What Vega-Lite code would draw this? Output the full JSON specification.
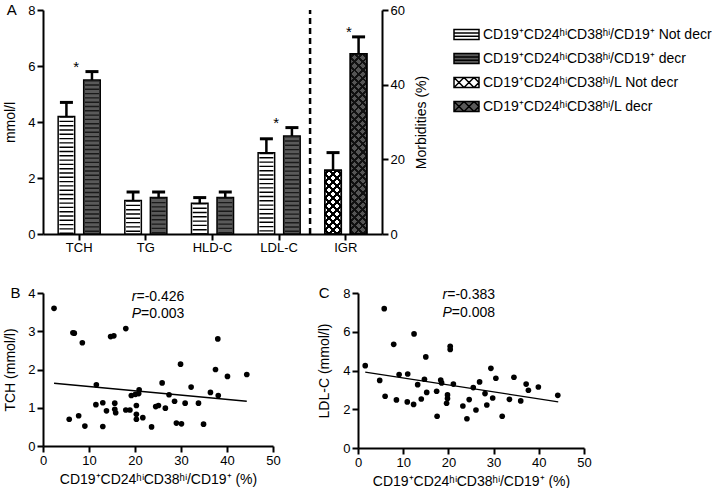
{
 "$schema": "https://vega.github.io/schema/vega-lite/v6.json",
 "background": "white",
 "padding": {"left": 3, "top": 3, "right": 0, "bottom": 0},
 "spacing": 28,
 "config": {
  "font": "Liberation Sans",
  "view": {"stroke": null},
  "axis": {"domainColor": "#000", "domainWidth": 2, "tickColor": "#000", "tickWidth": 2, "tickSize": 6, "labelColor": "#000", "labelFontSize": 13, "labelPadding": 2, "labelOverlap": false, "labelFlush": false, "labelBound": false, "titleFontSize": 14, "titleFontWeight": "normal", "titleColor": "#000", "grid": false}
 },
 "resolve": {"legend": {"fill": "independent", "shape": "independent"}},
 "datasets": {
  "bars": [
   {"cat": "TCH", "status": "Not decr", "series": "CD19⁺CD24ʰⁱCD38ʰⁱ/CD19⁺ Not decr", "value": 4.2, "hi": 4.7, "axis": "left", "sig": false},
   {"cat": "TCH", "status": "decr", "series": "CD19⁺CD24ʰⁱCD38ʰⁱ/CD19⁺ decr", "value": 5.5, "hi": 5.8, "axis": "left", "sig": true},
   {"cat": "TG", "status": "Not decr", "series": "CD19⁺CD24ʰⁱCD38ʰⁱ/CD19⁺ Not decr", "value": 1.2, "hi": 1.5, "axis": "left", "sig": false},
   {"cat": "TG", "status": "decr", "series": "CD19⁺CD24ʰⁱCD38ʰⁱ/CD19⁺ decr", "value": 1.3, "hi": 1.5, "axis": "left", "sig": false},
   {"cat": "HLD-C", "status": "Not decr", "series": "CD19⁺CD24ʰⁱCD38ʰⁱ/CD19⁺ Not decr", "value": 1.1, "hi": 1.3, "axis": "left", "sig": false},
   {"cat": "HLD-C", "status": "decr", "series": "CD19⁺CD24ʰⁱCD38ʰⁱ/CD19⁺ decr", "value": 1.3, "hi": 1.5, "axis": "left", "sig": false},
   {"cat": "LDL-C", "status": "Not decr", "series": "CD19⁺CD24ʰⁱCD38ʰⁱ/CD19⁺ Not decr", "value": 2.9, "hi": 3.4, "axis": "left", "sig": false},
   {"cat": "LDL-C", "status": "decr", "series": "CD19⁺CD24ʰⁱCD38ʰⁱ/CD19⁺ decr", "value": 3.5, "hi": 3.8, "axis": "left", "sig": true},
   {"cat": "IGR", "status": "Not decr", "series": "CD19⁺CD24ʰⁱCD38ʰⁱ/L Not decr", "value": 17.1, "hi": 21.8, "axis": "right", "sig": false},
   {"cat": "IGR", "status": "decr", "series": "CD19⁺CD24ʰⁱCD38ʰⁱ/L decr", "value": 48.3, "hi": 52.8, "axis": "right", "sig": true}
  ],
  "b": [
   {"x": 2.4, "y": 3.6}, {"x": 6.5, "y": 2.96}, {"x": 6.8, "y": 2.95}, {"x": 8.55, "y": 2.7}, {"x": 14.7, "y": 2.86}, {"x": 15.4, "y": 2.88}, {"x": 18.0, "y": 3.07}, {"x": 38.0, "y": 2.8}, {"x": 29.9, "y": 2.14}, {"x": 37.5, "y": 2.0}, {"x": 40.1, "y": 1.82}, {"x": 44.3, "y": 1.87}, {"x": 11.6, "y": 1.6}, {"x": 25.9, "y": 1.65}, {"x": 32.2, "y": 1.54}, {"x": 20.9, "y": 1.47}, {"x": 20.8, "y": 1.37}, {"x": 19.2, "y": 1.32}, {"x": 20.1, "y": 1.35}, {"x": 27.4, "y": 1.34}, {"x": 36.4, "y": 1.4}, {"x": 38.1, "y": 1.32}, {"x": 11.5, "y": 1.08}, {"x": 13.0, "y": 1.13}, {"x": 15.6, "y": 1.12}, {"x": 15.6, "y": 0.96}, {"x": 15.8, "y": 0.87}, {"x": 13.8, "y": 0.92}, {"x": 18.0, "y": 0.94}, {"x": 18.9, "y": 0.94}, {"x": 20.3, "y": 1.06}, {"x": 20.3, "y": 0.83}, {"x": 20.3, "y": 0.7}, {"x": 21.7, "y": 0.74}, {"x": 24.5, "y": 1.03}, {"x": 25.1, "y": 1.06}, {"x": 26.6, "y": 0.99}, {"x": 28.6, "y": 1.17}, {"x": 30.9, "y": 1.12}, {"x": 33.8, "y": 1.12}, {"x": 5.7, "y": 0.7}, {"x": 7.75, "y": 0.79}, {"x": 9.1, "y": 0.52}, {"x": 13.0, "y": 0.51}, {"x": 23.6, "y": 0.5}, {"x": 29.0, "y": 0.6}, {"x": 30.1, "y": 0.58}, {"x": 34.9, "y": 0.57}
  ],
  "bfit": [{"x": 2.4, "y": 1.64}, {"x": 44.3, "y": 1.17}],
  "c": [
   {"x": 5.8, "y": 7.19}, {"x": 7.9, "y": 5.35}, {"x": 12.4, "y": 5.89}, {"x": 20.4, "y": 5.25}, {"x": 20.4, "y": 5.09}, {"x": 15.0, "y": 4.7}, {"x": 1.6, "y": 4.25}, {"x": 29.4, "y": 4.11}, {"x": 9.1, "y": 3.79}, {"x": 11.0, "y": 3.82}, {"x": 4.8, "y": 3.49}, {"x": 14.7, "y": 3.55}, {"x": 18.3, "y": 3.51}, {"x": 18.5, "y": 3.36}, {"x": 13.2, "y": 3.27}, {"x": 21.1, "y": 3.3}, {"x": 26.9, "y": 3.41}, {"x": 30.5, "y": 3.6}, {"x": 34.5, "y": 3.65}, {"x": 37.2, "y": 3.3}, {"x": 39.9, "y": 3.15}, {"x": 37.7, "y": 2.98}, {"x": 25.5, "y": 3.12}, {"x": 15.2, "y": 2.87}, {"x": 17.4, "y": 2.93}, {"x": 6.0, "y": 2.67}, {"x": 8.5, "y": 2.48}, {"x": 10.9, "y": 2.38}, {"x": 12.3, "y": 2.25}, {"x": 14.0, "y": 2.53}, {"x": 19.8, "y": 2.74}, {"x": 19.8, "y": 2.55}, {"x": 19.6, "y": 2.31}, {"x": 28.1, "y": 2.81}, {"x": 29.8, "y": 2.58}, {"x": 33.5, "y": 2.51}, {"x": 36.0, "y": 2.43}, {"x": 44.2, "y": 2.72}, {"x": 24.6, "y": 2.5}, {"x": 23.2, "y": 2.17}, {"x": 28.5, "y": 2.22}, {"x": 26.1, "y": 1.96}, {"x": 17.5, "y": 1.64}, {"x": 24.1, "y": 1.51}, {"x": 31.9, "y": 1.64}
  ],
  "cfit": [{"x": 1.6, "y": 3.92}, {"x": 44.3, "y": 2.38}]
 },
 "vconcat": [
  {
   "width": 339,
   "height": 224,
   "data": {"name": "bars"},
   "layer": [
    {
     "layer": [
      {
       "transform": [{"filter": "datum.axis=='left'"}],
       "mark": {"type": "bar", "stroke": "#000", "strokeWidth": 1.5},
       "encoding": {
        "x": {"field": "cat", "type": "nominal", "scale": {"domain": ["TCH", "TG", "HLD-C", "LDL-C", "IGR"], "paddingInner": 0.234, "paddingOuter": 0.16}, "axis": {"title": null, "labelAngle": 0, "labelPadding": 1}},
        "xOffset": {"field": "status", "type": "nominal", "scale": {"domain": ["Not decr", "decr"], "paddingInner": 0.353, "paddingOuter": 0.176}},
        "y": {"field": "value", "type": "quantitative", "scale": {"domain": [0, 8]}, "axis": {"values": [0, 2, 4, 6, 8], "tickCount": 10, "format": "d", "title": "mmol/l", "titlePadding": 10}},
        "fill": {"condition": {"test": "datum.status=='decr'", "value": "#5a5a5a"}, "value": "#ffffff"}
       }
      },
      {
       "transform": [{"filter": "datum.axis=='left'"}],
       "mark": {"type": "rule", "strokeWidth": 14, "strokeDash": [1.4, 2.9], "strokeCap": "butt"},
       "encoding": {
        "x": {"field": "cat", "type": "nominal"},
        "xOffset": {"field": "status", "type": "nominal"},
        "y": {"field": "value", "type": "quantitative"},
        "y2": {"datum": 0},
        "stroke": {"condition": {"test": "datum.status=='decr'", "value": "#1a1a1a"}, "value": "#000000"}
       }
      },
      {
       "transform": [{"filter": "datum.axis=='left'"}],
       "mark": {"type": "rule", "strokeWidth": 2.5, "color": "#000"},
       "encoding": {
        "x": {"field": "cat", "type": "nominal"},
        "xOffset": {"field": "status", "type": "nominal"},
        "y": {"field": "value", "type": "quantitative"},
        "y2": {"field": "hi"}
       }
      },
      {
       "transform": [{"filter": "datum.axis=='left'"}],
       "mark": {"type": "tick", "thickness": 3, "size": 13, "color": "#000", "opacity": 1},
       "encoding": {
        "x": {"field": "cat", "type": "nominal"},
        "xOffset": {"field": "status", "type": "nominal"},
        "y": {"field": "hi", "type": "quantitative"}
       }
      },
      {
       "transform": [{"filter": "datum.axis=='left' && datum.sig"}],
       "mark": {"type": "text", "fontSize": 15, "dy": -5, "dx": -3, "color": "#000"},
       "encoding": {
        "x": {"field": "cat", "type": "nominal"},
        "y": {"field": "hi", "type": "quantitative"},
        "text": {"value": "*"}
       }
      },
      {
       "data": {"values": [{}]},
       "mark": {"type": "rule", "strokeDash": [6, 4], "strokeWidth": 2.5, "color": "#000"},
       "encoding": {
        "x": {"datum": "IGR", "type": "nominal", "bandPosition": -0.2},
        "y": {"datum": 0, "type": "quantitative"},
        "y2": {"datum": 8}
       }
      },
      {
       "data": {"values": [{}]},
       "mark": {"type": "text", "fontSize": 15, "align": "center", "baseline": "middle", "color": "#000"},
       "encoding": {
        "x": {"datum": "TCH", "type": "nominal", "bandPosition": -0.82},
        "y": {"datum": 8, "type": "quantitative"},
        "text": {"value": "A"}
       }
      },
      {
       "transform": [{"filter": "datum.axis=='left'"}],
       "mark": {"type": "point", "filled": true, "opacity": 0, "stroke": "#000"},
       "encoding": {
        "x": {"field": "cat", "type": "nominal"},
        "xOffset": {"field": "status", "type": "nominal"},
        "y": {"field": "value", "type": "quantitative"},
        "fill": {
         "field": "series", "type": "nominal",
         "scale": {"domain": ["CD19⁺CD24ʰⁱCD38ʰⁱ/CD19⁺ Not decr", "CD19⁺CD24ʰⁱCD38ʰⁱ/CD19⁺ decr", "CD19⁺CD24ʰⁱCD38ʰⁱ/L Not decr", "CD19⁺CD24ʰⁱCD38ʰⁱ/L decr"], "range": ["#ffffff", "#5a5a5a", "#ffffff", "#5a5a5a"]},
         "legend": {"title": null, "orient": "none", "legendX": 410, "legendY": 11, "symbolSize": 625, "labelFontSize": 14, "labelColor": "#000", "labelOffset": 3, "rowPadding": 2, "padding": 0, "labelLimit": 400, "symbolStrokeColor": "#000", "symbolStrokeWidth": 1.5, "symbolOpacity": 1, "encode": {"symbols": {"update": {"stroke": {"value": "#000"}, "strokeWidth": {"value": 1.5}, "opacity": {"value": 1}}}}}
        },
        "shape": {
         "field": "series", "type": "nominal",
         "scale": {"domain": ["CD19⁺CD24ʰⁱCD38ʰⁱ/CD19⁺ Not decr", "CD19⁺CD24ʰⁱCD38ʰⁱ/CD19⁺ decr", "CD19⁺CD24ʰⁱCD38ʰⁱ/L Not decr", "CD19⁺CD24ʰⁱCD38ʰⁱ/L decr"], "range": ["M-1,-0.4H1V0.4H-1ZM-1,-0.13H1M-1,0.13H1", "M-1,-0.4H1V0.4H-1ZM-1,-0.13H1M-1,0.13H1", "M-1,-0.4H1V0.4H-1ZM-1,-0.4L-0.2,0.4M-1,0.4L-0.2,-0.4M-0.2,-0.4L0.6,0.4M-0.2,0.4L0.6,-0.4M0.6,-0.4L1,0L0.6,0.4", "M-1,-0.4H1V0.4H-1ZM-1,-0.4L-0.2,0.4M-1,0.4L-0.2,-0.4M-0.2,-0.4L0.6,0.4M-0.2,0.4L0.6,-0.4M0.6,-0.4L1,0L0.6,0.4"]},
         "legend": {"title": null, "orient": "none", "legendX": 410, "legendY": 11, "symbolSize": 625, "labelFontSize": 14, "labelColor": "#000", "labelOffset": 3, "rowPadding": 2, "padding": 0, "labelLimit": 400, "symbolStrokeColor": "#000", "symbolStrokeWidth": 1.5, "symbolOpacity": 1, "encode": {"symbols": {"update": {"stroke": {"value": "#000"}, "strokeWidth": {"value": 1.5}, "opacity": {"value": 1}}}}}
        }
       }
      }
     ]
    },
    {
     "layer": [
      {
       "transform": [{"filter": "datum.axis=='right' && datum.status=='Not decr'"}],
       "mark": {"type": "bar", "stroke": "#000", "strokeWidth": 1.5,
        "fill": {"gradient": "linear", "x1": 0, "y1": 0, "x2": 0.3051, "y2": 1.18, "stops": [
         {"offset": 0.0325, "color": "#fff"}, {"offset": 0.0325, "color": "#000"}, {"offset": 0.0675, "color": "#000"}, {"offset": 0.0675, "color": "#fff"},
         {"offset": 0.1325, "color": "#fff"}, {"offset": 0.1325, "color": "#000"}, {"offset": 0.1675, "color": "#000"}, {"offset": 0.1675, "color": "#fff"},
         {"offset": 0.2325, "color": "#fff"}, {"offset": 0.2325, "color": "#000"}, {"offset": 0.2675, "color": "#000"}, {"offset": 0.2675, "color": "#fff"},
         {"offset": 0.3325, "color": "#fff"}, {"offset": 0.3325, "color": "#000"}, {"offset": 0.3675, "color": "#000"}, {"offset": 0.3675, "color": "#fff"},
         {"offset": 0.4325, "color": "#fff"}, {"offset": 0.4325, "color": "#000"}, {"offset": 0.4675, "color": "#000"}, {"offset": 0.4675, "color": "#fff"},
         {"offset": 0.5325, "color": "#fff"}, {"offset": 0.5325, "color": "#000"}, {"offset": 0.5675, "color": "#000"}, {"offset": 0.5675, "color": "#fff"},
         {"offset": 0.6325, "color": "#fff"}, {"offset": 0.6325, "color": "#000"}, {"offset": 0.6675, "color": "#000"}, {"offset": 0.6675, "color": "#fff"},
         {"offset": 0.7325, "color": "#fff"}, {"offset": 0.7325, "color": "#000"}, {"offset": 0.7675, "color": "#000"}, {"offset": 0.7675, "color": "#fff"},
         {"offset": 0.8325, "color": "#fff"}, {"offset": 0.8325, "color": "#000"}, {"offset": 0.8675, "color": "#000"}, {"offset": 0.8675, "color": "#fff"},
         {"offset": 0.9325, "color": "#fff"}, {"offset": 0.9325, "color": "#000"}, {"offset": 0.9675, "color": "#000"}, {"offset": 0.9675, "color": "#fff"}
        ]}},
       "encoding": {
        "x": {"field": "cat", "type": "nominal"},
        "xOffset": {"field": "status", "type": "nominal"},
        "y": {"field": "value", "type": "quantitative", "scale": {"domain": [0, 60]}, "axis": {"orient": "right", "values": [0, 20, 40, 60], "tickCount": 10, "format": "d", "title": "Morbidities (%)", "titlePadding": 10, "titleAngle": 270, "titleBaseline": "top"}}
       }
      },
      {
       "transform": [{"filter": "datum.axis=='right' && datum.status=='Not decr'"}],
       "mark": {"type": "bar", "stroke": "#000", "strokeWidth": 1.5,
        "fill": {"gradient": "linear", "x1": 0, "y1": 1, "x2": 0.3051, "y2": -0.18, "stops": [
         {"offset": 0.0325, "color": "rgba(0,0,0,0)"}, {"offset": 0.0325, "color": "#000"}, {"offset": 0.0675, "color": "#000"}, {"offset": 0.0675, "color": "rgba(0,0,0,0)"},
         {"offset": 0.1325, "color": "rgba(0,0,0,0)"}, {"offset": 0.1325, "color": "#000"}, {"offset": 0.1675, "color": "#000"}, {"offset": 0.1675, "color": "rgba(0,0,0,0)"},
         {"offset": 0.2325, "color": "rgba(0,0,0,0)"}, {"offset": 0.2325, "color": "#000"}, {"offset": 0.2675, "color": "#000"}, {"offset": 0.2675, "color": "rgba(0,0,0,0)"},
         {"offset": 0.3325, "color": "rgba(0,0,0,0)"}, {"offset": 0.3325, "color": "#000"}, {"offset": 0.3675, "color": "#000"}, {"offset": 0.3675, "color": "rgba(0,0,0,0)"},
         {"offset": 0.4325, "color": "rgba(0,0,0,0)"}, {"offset": 0.4325, "color": "#000"}, {"offset": 0.4675, "color": "#000"}, {"offset": 0.4675, "color": "rgba(0,0,0,0)"},
         {"offset": 0.5325, "color": "rgba(0,0,0,0)"}, {"offset": 0.5325, "color": "#000"}, {"offset": 0.5675, "color": "#000"}, {"offset": 0.5675, "color": "rgba(0,0,0,0)"},
         {"offset": 0.6325, "color": "rgba(0,0,0,0)"}, {"offset": 0.6325, "color": "#000"}, {"offset": 0.6675, "color": "#000"}, {"offset": 0.6675, "color": "rgba(0,0,0,0)"},
         {"offset": 0.7325, "color": "rgba(0,0,0,0)"}, {"offset": 0.7325, "color": "#000"}, {"offset": 0.7675, "color": "#000"}, {"offset": 0.7675, "color": "rgba(0,0,0,0)"},
         {"offset": 0.8325, "color": "rgba(0,0,0,0)"}, {"offset": 0.8325, "color": "#000"}, {"offset": 0.8675, "color": "#000"}, {"offset": 0.8675, "color": "rgba(0,0,0,0)"},
         {"offset": 0.9325, "color": "rgba(0,0,0,0)"}, {"offset": 0.9325, "color": "#000"}, {"offset": 0.9675, "color": "#000"}, {"offset": 0.9675, "color": "rgba(0,0,0,0)"}
        ]}},
       "encoding": {
        "x": {"field": "cat", "type": "nominal"},
        "xOffset": {"field": "status", "type": "nominal"},
        "y": {"field": "value", "type": "quantitative"}
       }
      },
      {
       "transform": [{"filter": "datum.axis=='right' && datum.status=='decr'"}],
       "mark": {"type": "bar", "stroke": "#000", "strokeWidth": 1.5,
        "fill": {"gradient": "linear", "x1": 0, "y1": 0, "x2": 0.0991, "y2": 1.0824, "stops": [
         {"offset": 0.0135, "color": "#555"}, {"offset": 0.0135, "color": "#111"}, {"offset": 0.0281, "color": "#111"}, {"offset": 0.0281, "color": "#555"},
         {"offset": 0.0552, "color": "#555"}, {"offset": 0.0552, "color": "#111"}, {"offset": 0.0698, "color": "#111"}, {"offset": 0.0698, "color": "#555"},
         {"offset": 0.0969, "color": "#555"}, {"offset": 0.0969, "color": "#111"}, {"offset": 0.1115, "color": "#111"}, {"offset": 0.1115, "color": "#555"},
         {"offset": 0.1385, "color": "#555"}, {"offset": 0.1385, "color": "#111"}, {"offset": 0.1531, "color": "#111"}, {"offset": 0.1531, "color": "#555"},
         {"offset": 0.1802, "color": "#555"}, {"offset": 0.1802, "color": "#111"}, {"offset": 0.1948, "color": "#111"}, {"offset": 0.1948, "color": "#555"},
         {"offset": 0.2219, "color": "#555"}, {"offset": 0.2219, "color": "#111"}, {"offset": 0.2365, "color": "#111"}, {"offset": 0.2365, "color": "#555"},
         {"offset": 0.2635, "color": "#555"}, {"offset": 0.2635, "color": "#111"}, {"offset": 0.2781, "color": "#111"}, {"offset": 0.2781, "color": "#555"},
         {"offset": 0.3052, "color": "#555"}, {"offset": 0.3052, "color": "#111"}, {"offset": 0.3198, "color": "#111"}, {"offset": 0.3198, "color": "#555"},
         {"offset": 0.3469, "color": "#555"}, {"offset": 0.3469, "color": "#111"}, {"offset": 0.3615, "color": "#111"}, {"offset": 0.3615, "color": "#555"},
         {"offset": 0.3885, "color": "#555"}, {"offset": 0.3885, "color": "#111"}, {"offset": 0.4031, "color": "#111"}, {"offset": 0.4031, "color": "#555"},
         {"offset": 0.4302, "color": "#555"}, {"offset": 0.4302, "color": "#111"}, {"offset": 0.4448, "color": "#111"}, {"offset": 0.4448, "color": "#555"},
         {"offset": 0.4719, "color": "#555"}, {"offset": 0.4719, "color": "#111"}, {"offset": 0.4865, "color": "#111"}, {"offset": 0.4865, "color": "#555"},
         {"offset": 0.5135, "color": "#555"}, {"offset": 0.5135, "color": "#111"}, {"offset": 0.5281, "color": "#111"}, {"offset": 0.5281, "color": "#555"},
         {"offset": 0.5552, "color": "#555"}, {"offset": 0.5552, "color": "#111"}, {"offset": 0.5698, "color": "#111"}, {"offset": 0.5698, "color": "#555"},
         {"offset": 0.5969, "color": "#555"}, {"offset": 0.5969, "color": "#111"}, {"offset": 0.6115, "color": "#111"}, {"offset": 0.6115, "color": "#555"},
         {"offset": 0.6385, "color": "#555"}, {"offset": 0.6385, "color": "#111"}, {"offset": 0.6531, "color": "#111"}, {"offset": 0.6531, "color": "#555"},
         {"offset": 0.6802, "color": "#555"}, {"offset": 0.6802, "color": "#111"}, {"offset": 0.6948, "color": "#111"}, {"offset": 0.6948, "color": "#555"},
         {"offset": 0.7219, "color": "#555"}, {"offset": 0.7219, "color": "#111"}, {"offset": 0.7365, "color": "#111"}, {"offset": 0.7365, "color": "#555"},
         {"offset": 0.7635, "color": "#555"}, {"offset": 0.7635, "color": "#111"}, {"offset": 0.7781, "color": "#111"}, {"offset": 0.7781, "color": "#555"},
         {"offset": 0.8052, "color": "#555"}, {"offset": 0.8052, "color": "#111"}, {"offset": 0.8198, "color": "#111"}, {"offset": 0.8198, "color": "#555"},
         {"offset": 0.8469, "color": "#555"}, {"offset": 0.8469, "color": "#111"}, {"offset": 0.8615, "color": "#111"}, {"offset": 0.8615, "color": "#555"},
         {"offset": 0.8885, "color": "#555"}, {"offset": 0.8885, "color": "#111"}, {"offset": 0.9031, "color": "#111"}, {"offset": 0.9031, "color": "#555"},
         {"offset": 0.9302, "color": "#555"}, {"offset": 0.9302, "color": "#111"}, {"offset": 0.9448, "color": "#111"}, {"offset": 0.9448, "color": "#555"},
         {"offset": 0.9719, "color": "#555"}, {"offset": 0.9719, "color": "#111"}, {"offset": 0.9865, "color": "#111"}, {"offset": 0.9865, "color": "#555"}
        ]}},
       "encoding": {
        "x": {"field": "cat", "type": "nominal"},
        "xOffset": {"field": "status", "type": "nominal"},
        "y": {"field": "value", "type": "quantitative"}
       }
      },
      {
       "transform": [{"filter": "datum.axis=='right' && datum.status=='decr'"}],
       "mark": {"type": "bar", "stroke": "#000", "strokeWidth": 1.5,
        "fill": {"gradient": "linear", "x1": 0, "y1": 1, "x2": 0.0991, "y2": -0.0824, "stops": [
         {"offset": 0.0135, "color": "rgba(0,0,0,0)"}, {"offset": 0.0135, "color": "#111"}, {"offset": 0.0281, "color": "#111"}, {"offset": 0.0281, "color": "rgba(0,0,0,0)"},
         {"offset": 0.0552, "color": "rgba(0,0,0,0)"}, {"offset": 0.0552, "color": "#111"}, {"offset": 0.0698, "color": "#111"}, {"offset": 0.0698, "color": "rgba(0,0,0,0)"},
         {"offset": 0.0969, "color": "rgba(0,0,0,0)"}, {"offset": 0.0969, "color": "#111"}, {"offset": 0.1115, "color": "#111"}, {"offset": 0.1115, "color": "rgba(0,0,0,0)"},
         {"offset": 0.1385, "color": "rgba(0,0,0,0)"}, {"offset": 0.1385, "color": "#111"}, {"offset": 0.1531, "color": "#111"}, {"offset": 0.1531, "color": "rgba(0,0,0,0)"},
         {"offset": 0.1802, "color": "rgba(0,0,0,0)"}, {"offset": 0.1802, "color": "#111"}, {"offset": 0.1948, "color": "#111"}, {"offset": 0.1948, "color": "rgba(0,0,0,0)"},
         {"offset": 0.2219, "color": "rgba(0,0,0,0)"}, {"offset": 0.2219, "color": "#111"}, {"offset": 0.2365, "color": "#111"}, {"offset": 0.2365, "color": "rgba(0,0,0,0)"},
         {"offset": 0.2635, "color": "rgba(0,0,0,0)"}, {"offset": 0.2635, "color": "#111"}, {"offset": 0.2781, "color": "#111"}, {"offset": 0.2781, "color": "rgba(0,0,0,0)"},
         {"offset": 0.3052, "color": "rgba(0,0,0,0)"}, {"offset": 0.3052, "color": "#111"}, {"offset": 0.3198, "color": "#111"}, {"offset": 0.3198, "color": "rgba(0,0,0,0)"},
         {"offset": 0.3469, "color": "rgba(0,0,0,0)"}, {"offset": 0.3469, "color": "#111"}, {"offset": 0.3615, "color": "#111"}, {"offset": 0.3615, "color": "rgba(0,0,0,0)"},
         {"offset": 0.3885, "color": "rgba(0,0,0,0)"}, {"offset": 0.3885, "color": "#111"}, {"offset": 0.4031, "color": "#111"}, {"offset": 0.4031, "color": "rgba(0,0,0,0)"},
         {"offset": 0.4302, "color": "rgba(0,0,0,0)"}, {"offset": 0.4302, "color": "#111"}, {"offset": 0.4448, "color": "#111"}, {"offset": 0.4448, "color": "rgba(0,0,0,0)"},
         {"offset": 0.4719, "color": "rgba(0,0,0,0)"}, {"offset": 0.4719, "color": "#111"}, {"offset": 0.4865, "color": "#111"}, {"offset": 0.4865, "color": "rgba(0,0,0,0)"},
         {"offset": 0.5135, "color": "rgba(0,0,0,0)"}, {"offset": 0.5135, "color": "#111"}, {"offset": 0.5281, "color": "#111"}, {"offset": 0.5281, "color": "rgba(0,0,0,0)"},
         {"offset": 0.5552, "color": "rgba(0,0,0,0)"}, {"offset": 0.5552, "color": "#111"}, {"offset": 0.5698, "color": "#111"}, {"offset": 0.5698, "color": "rgba(0,0,0,0)"},
         {"offset": 0.5969, "color": "rgba(0,0,0,0)"}, {"offset": 0.5969, "color": "#111"}, {"offset": 0.6115, "color": "#111"}, {"offset": 0.6115, "color": "rgba(0,0,0,0)"},
         {"offset": 0.6385, "color": "rgba(0,0,0,0)"}, {"offset": 0.6385, "color": "#111"}, {"offset": 0.6531, "color": "#111"}, {"offset": 0.6531, "color": "rgba(0,0,0,0)"},
         {"offset": 0.6802, "color": "rgba(0,0,0,0)"}, {"offset": 0.6802, "color": "#111"}, {"offset": 0.6948, "color": "#111"}, {"offset": 0.6948, "color": "rgba(0,0,0,0)"},
         {"offset": 0.7219, "color": "rgba(0,0,0,0)"}, {"offset": 0.7219, "color": "#111"}, {"offset": 0.7365, "color": "#111"}, {"offset": 0.7365, "color": "rgba(0,0,0,0)"},
         {"offset": 0.7635, "color": "rgba(0,0,0,0)"}, {"offset": 0.7635, "color": "#111"}, {"offset": 0.7781, "color": "#111"}, {"offset": 0.7781, "color": "rgba(0,0,0,0)"},
         {"offset": 0.8052, "color": "rgba(0,0,0,0)"}, {"offset": 0.8052, "color": "#111"}, {"offset": 0.8198, "color": "#111"}, {"offset": 0.8198, "color": "rgba(0,0,0,0)"},
         {"offset": 0.8469, "color": "rgba(0,0,0,0)"}, {"offset": 0.8469, "color": "#111"}, {"offset": 0.8615, "color": "#111"}, {"offset": 0.8615, "color": "rgba(0,0,0,0)"},
         {"offset": 0.8885, "color": "rgba(0,0,0,0)"}, {"offset": 0.8885, "color": "#111"}, {"offset": 0.9031, "color": "#111"}, {"offset": 0.9031, "color": "rgba(0,0,0,0)"},
         {"offset": 0.9302, "color": "rgba(0,0,0,0)"}, {"offset": 0.9302, "color": "#111"}, {"offset": 0.9448, "color": "#111"}, {"offset": 0.9448, "color": "rgba(0,0,0,0)"},
         {"offset": 0.9719, "color": "rgba(0,0,0,0)"}, {"offset": 0.9719, "color": "#111"}, {"offset": 0.9865, "color": "#111"}, {"offset": 0.9865, "color": "rgba(0,0,0,0)"}
        ]}},
       "encoding": {
        "x": {"field": "cat", "type": "nominal"},
        "xOffset": {"field": "status", "type": "nominal"},
        "y": {"field": "value", "type": "quantitative"}
       }
      },
      {
       "transform": [{"filter": "datum.axis=='right'"}],
       "mark": {"type": "rule", "strokeWidth": 2.5, "color": "#000"},
       "encoding": {
        "x": {"field": "cat", "type": "nominal"},
        "xOffset": {"field": "status", "type": "nominal"},
        "y": {"field": "value", "type": "quantitative"},
        "y2": {"field": "hi"}
       }
      },
      {
       "transform": [{"filter": "datum.axis=='right'"}],
       "mark": {"type": "tick", "thickness": 3, "size": 13, "color": "#000", "opacity": 1},
       "encoding": {
        "x": {"field": "cat", "type": "nominal"},
        "xOffset": {"field": "status", "type": "nominal"},
        "y": {"field": "hi", "type": "quantitative"}
       }
      },
      {
       "transform": [{"filter": "datum.axis=='right' && datum.sig"}],
       "mark": {"type": "text", "fontSize": 15, "dy": -5, "dx": 3, "color": "#000"},
       "encoding": {
        "x": {"field": "cat", "type": "nominal"},
        "y": {"field": "hi", "type": "quantitative"},
        "text": {"value": "*"}
       }
      }
     ]
    }
   ],
   "resolve": {"scale": {"y": "independent"}}
  },
  {
   "hconcat": [
    {
     "width": 230,
     "height": 153,
     "layer": [
      {
       "data": {"name": "b"},
       "mark": {"type": "circle", "size": 32, "color": "#000", "opacity": 1},
       "encoding": {
        "x": {"field": "x", "type": "quantitative", "scale": {"domain": [0, 50]}, "axis": {"values": [0, 10, 20, 30, 40, 50], "tickCount": 10, "format": "d", "title": "CD19⁺CD24ʰⁱCD38ʰⁱ/CD19⁺ (%)", "titlePadding": 5}},
        "y": {"field": "y", "type": "quantitative", "scale": {"domain": [0, 4]}, "axis": {"values": [0, 1, 2, 3, 4], "tickCount": 10, "format": "d", "title": "TCH (mmol/l)", "titlePadding": 10}}
       }
      },
      {
       "data": {"name": "bfit"},
       "mark": {"type": "line", "color": "#000", "strokeWidth": 1.3},
       "encoding": {"x": {"field": "x", "type": "quantitative"}, "y": {"field": "y", "type": "quantitative"}}
      },
      {
       "data": {"values": [{}]},
       "mark": {"type": "text", "fontSize": 14, "fontStyle": "italic", "align": "left", "baseline": "middle", "color": "#000"},
       "encoding": {"x": {"datum": 19.3}, "y": {"datum": 3.89}, "text": {"value": "r"}}
      },
      {
       "data": {"values": [{}]},
       "mark": {"type": "text", "fontSize": 14, "align": "left", "baseline": "middle", "dx": 4.7, "color": "#000"},
       "encoding": {"x": {"datum": 19.3}, "y": {"datum": 3.89}, "text": {"value": "=-0.426"}}
      },
      {
       "data": {"values": [{}]},
       "mark": {"type": "text", "fontSize": 14, "fontStyle": "italic", "align": "left", "baseline": "middle", "color": "#000"},
       "encoding": {"x": {"datum": 19.3}, "y": {"datum": 3.45}, "text": {"value": "P"}}
      },
      {
       "data": {"values": [{}]},
       "mark": {"type": "text", "fontSize": 14, "align": "left", "baseline": "middle", "dx": 9.3, "color": "#000"},
       "encoding": {"x": {"datum": 19.3}, "y": {"datum": 3.45}, "text": {"value": "=0.003"}}
      },
      {
       "data": {"values": [{}]},
       "mark": {"type": "text", "fontSize": 15, "align": "center", "baseline": "middle", "color": "#000"},
       "encoding": {"x": {"datum": -6}, "y": {"datum": 4}, "text": {"value": "B"}}
      }
     ]
    },
    {
     "width": 226,
     "height": 155,
     "title": {"text": " ", "fontSize": 1, "offset": 3},
     "layer": [
      {
       "data": {"name": "c"},
       "mark": {"type": "circle", "size": 32, "color": "#000", "opacity": 1},
       "encoding": {
        "x": {"field": "x", "type": "quantitative", "scale": {"domain": [0, 50]}, "axis": {"values": [0, 10, 20, 30, 40, 50], "tickCount": 10, "format": "d", "title": "CD19⁺CD24ʰⁱCD38ʰⁱ/CD19⁺ (%)", "titlePadding": 5}},
        "y": {"field": "y", "type": "quantitative", "scale": {"domain": [0, 8]}, "axis": {"values": [0, 2, 4, 6, 8], "tickCount": 10, "format": "d", "title": "LDL-C (mmol/l)", "titlePadding": 11}}
       }
      },
      {
       "data": {"name": "cfit"},
       "mark": {"type": "line", "color": "#000", "strokeWidth": 1.3},
       "encoding": {"x": {"field": "x", "type": "quantitative"}, "y": {"field": "y", "type": "quantitative"}}
      },
      {
       "data": {"values": [{}]},
       "mark": {"type": "text", "fontSize": 14, "fontStyle": "italic", "align": "left", "baseline": "middle", "color": "#000"},
       "encoding": {"x": {"datum": 18.7}, "y": {"datum": 7.88}, "text": {"value": "r"}}
      },
      {
       "data": {"values": [{}]},
       "mark": {"type": "text", "fontSize": 14, "align": "left", "baseline": "middle", "dx": 4.7, "color": "#000"},
       "encoding": {"x": {"datum": 18.7}, "y": {"datum": 7.88}, "text": {"value": "=-0.383"}}
      },
      {
       "data": {"values": [{}]},
       "mark": {"type": "text", "fontSize": 14, "fontStyle": "italic", "align": "left", "baseline": "middle", "color": "#000"},
       "encoding": {"x": {"datum": 18.7}, "y": {"datum": 6.97}, "text": {"value": "P"}}
      },
      {
       "data": {"values": [{}]},
       "mark": {"type": "text", "fontSize": 14, "align": "left", "baseline": "middle", "dx": 9.3, "color": "#000"},
       "encoding": {"x": {"datum": 18.7}, "y": {"datum": 6.97}, "text": {"value": "=0.008"}}
      },
      {
       "data": {"values": [{}]},
       "mark": {"type": "text", "fontSize": 15, "align": "center", "baseline": "middle", "color": "#000"},
       "encoding": {"x": {"datum": -7.5}, "y": {"datum": 8}, "text": {"value": "C"}}
      }
     ]
    }
   ],
   "spacing": 36
  }
 ]
}
